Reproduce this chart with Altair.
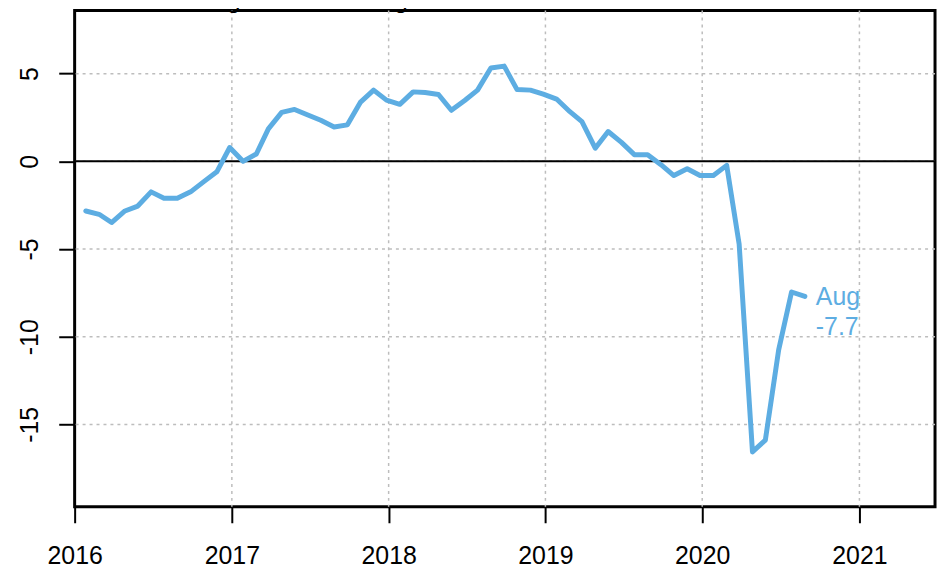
import altair as alt
import pandas as pd

# ---- data ----
years = [2016] * 12 + [2017] * 12 + [2018] * 12 + [2019] * 12 + [2020] * 8
months = list(range(1, 13)) * 4 + list(range(1, 9))
values = [
    -2.83, -3.02, -3.49, -2.83, -2.55, -1.74, -2.11, -2.11, -1.74, -1.17, -0.60, 0.79,
    0.00, 0.42, 1.85, 2.79, 2.96, 2.64, 2.34, 1.96, 2.08, 3.36, 4.06, 3.49,
    3.25, 3.96, 3.92, 3.81, 2.91, 3.47, 4.06, 5.32, 5.43, 4.09, 4.06, 3.83,
    3.55, 2.83, 2.26, 0.75, 1.70, 1.08, 0.38, 0.38, -0.19, -0.81, -0.42, -0.81,
    -0.81, -0.23, -4.72, -16.57, -15.90, -10.75, -7.45, -7.70,
]
year_ticks = [2016, 2017, 2018, 2019, 2020, 2021]
y_ticks = [-15, -10, -5, 0, 5]
title_text = "Percent Change Over Year Ago Level"
last_label = "Aug"

LINE_COLOR = "#5DADE2"
GRID_COLOR = "#BDBDBD"
FONT = "Liberation Sans"

df = pd.DataFrame({
    "date": [f"{y}-{m:02d}-27" for y, m in zip(years, months)],
    "value": values,
})
ann = pd.DataFrame({
    "date": [df["date"].iloc[-1]],
    "value": [values[-1]],
    "month": [last_label],
    "vtxt": [f"{values[-1]:.1f}"],
})
zero_df = pd.DataFrame({"y": [0]})
title_df = pd.DataFrame({"t": [title_text]})
vgrid_df = pd.DataFrame({"date": [f"{y}-01-01" for y in year_ticks[1:]]})
hgrid_df = pd.DataFrame({"y": y_ticks})

x_scale = alt.Scale(domain=["2016-01-01", "2021-06-26"], nice=False)
y_scale = alt.Scale(domain=[-19.7, 8.6], nice=False, zero=False)

x_axis = alt.Axis(
    values=[alt.DateTime(year=y, month=1, date=1) for y in year_ticks],
    format="%Y", title=None, domain=False, grid=False,
    labelFontSize=25, labelFont=FONT, labelColor="black",
    labelAlign="center", labelBaseline="alphabetic", labelPadding=41,
    labelFlush=False, labelOverlap=False, labelBound=False,
    tickSize=16, tickWidth=2, tickColor="black",
)
y_axis = alt.Axis(
    values=y_ticks, title=None, domain=False, grid=False,
    labelExpr="'' + datum.value",
    labelFontSize=25, labelFont=FONT, labelColor="black",
    labelAngle=270, labelAlign="center", labelBaseline="alphabetic", labelPadding=21,
    labelFlush=False, labelOverlap=False, labelBound=False,
    tickSize=16, tickWidth=2, tickColor="black",
)

vgrid = alt.Chart(vgrid_df).mark_rule(
    color=GRID_COLOR, strokeWidth=1.5, strokeDash=[3, 4]
).encode(x=alt.X("date:T", scale=x_scale))

hgrid = alt.Chart(hgrid_df).mark_rule(
    color=GRID_COLOR, strokeWidth=1.5, strokeDash=[3, 4]
).encode(y=alt.Y("y:Q", scale=y_scale))

line = alt.Chart(df).mark_line(
    color=LINE_COLOR, strokeWidth=5, strokeCap="round", strokeJoin="round", clip=True
).encode(
    x=alt.X("date:T", scale=x_scale, axis=x_axis),
    y=alt.Y("value:Q", scale=y_scale, axis=y_axis),
)

zero = alt.Chart(zero_df).mark_rule(color="black", strokeWidth=2).encode(
    y=alt.Y("y:Q", scale=y_scale)
)

lab1 = alt.Chart(ann).mark_text(
    align="left", baseline="alphabetic", dx=11, dy=9,
    fontSize=25, font=FONT, color=LINE_COLOR,
).encode(x=alt.X("date:T", scale=x_scale), y=alt.Y("value:Q", scale=y_scale), text="month:N")

lab2 = alt.Chart(ann).mark_text(
    align="left", baseline="alphabetic", dx=11, dy=39,
    fontSize=25, font=FONT, color=LINE_COLOR,
).encode(x=alt.X("date:T", scale=x_scale), y=alt.Y("value:Q", scale=y_scale), text="vtxt:N")

title = alt.Chart(title_df).mark_text(
    align="left", baseline="alphabetic", fontSize=25, font=FONT, color="black"
).encode(x=alt.value(0), y=alt.value(-3), text="t:N")

chart = alt.layer(vgrid, hgrid, zero, line, lab1, lab2, title).properties(
    width=865, height=499,
    background="white",
    autosize=alt.AutoSizeParams(type="none"),
    padding={"left": 67, "top": 1, "right": 4, "bottom": 64},
).configure_view(
    stroke="black", strokeWidth=3
)

chart.save("out.html", embed_options={"renderer": "svg", "actions": False})
